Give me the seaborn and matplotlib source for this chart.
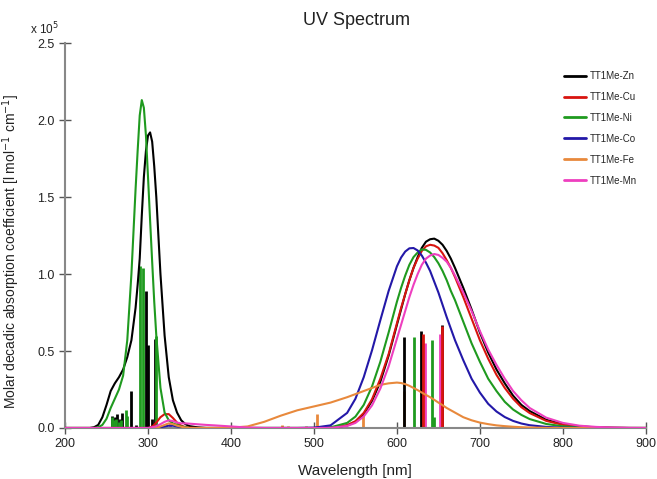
import numpy as np
import pandas as pd
import matplotlib
matplotlib.use("Agg")
import matplotlib.pyplot as plt
import seaborn as sns

# wavelength grid (nm) shared by all spectra
wavelength = [200, 230, 235, 240, 245, 250, 255, 260, 265, 270, 275, 280, 285, 287.5,
              290, 292.5, 295, 297.5, 300, 302.5, 305, 307.5, 310, 315, 320, 325, 330,
              335, 340, 345, 350, 360, 370, 380, 400, 420, 440, 460, 480,
              500, 520, 540, 550, 560, 570, 580, 590, 600, 605, 610, 615, 620, 625,
              630, 635, 640, 645, 650, 655, 660, 665, 670, 680, 690, 700, 710, 720,
              730, 740, 750, 760, 780, 800, 820, 840, 860, 880, 900]

# molar absorption (x 1e5)
eps_zn = [0, 0, 0.005, 0.02, 0.07, 0.15, 0.24, 0.29, 0.33, 0.38, 0.46, 0.57, 0.78, 0.93,
          1.1, 1.38, 1.63, 1.8, 1.9, 1.92, 1.86, 1.7, 1.5, 1.0, 0.6, 0.33, 0.18,
          0.1, 0.05, 0.025, 0.012, 0.004, 0, 0, 0, 0, 0, 0, 0,
          0, 0.002, 0.016, 0.041, 0.09, 0.177, 0.3, 0.47, 0.67, 0.77, 0.87, 0.96, 1.04, 1.11,
          1.17, 1.21, 1.226, 1.23, 1.216, 1.19, 1.15, 1.1, 1.04, 0.91, 0.77, 0.62, 0.49, 0.38,
          0.29, 0.21, 0.15, 0.11, 0.053, 0.024, 0.011, 0.004, 0.0015, 0, 0]
eps_cu = [0, 0, 0, 0, 0, 0, 0, 0, 0, 0, 0, 0, 0, 0,
          0, 0, 0, 0, 0, 0.003, 0.01, 0.02, 0.035, 0.07, 0.09, 0.09, 0.065,
          0.035, 0.015, 0.006, 0.002, 0, 0, 0, 0, 0, 0, 0, 0,
          0, 0.002, 0.018, 0.044, 0.098, 0.187, 0.32, 0.48, 0.68, 0.78, 0.87, 0.96, 1.04, 1.1,
          1.15, 1.18, 1.19, 1.185, 1.17, 1.135, 1.09, 1.04, 0.98, 0.85, 0.71, 0.57, 0.45, 0.345,
          0.26, 0.19, 0.135, 0.097, 0.046, 0.021, 0.009, 0.003, 0.001, 0, 0]
eps_ni = [0, 0, 0, 0.005, 0.02, 0.06, 0.13, 0.19, 0.25, 0.34, 0.57, 1.0, 1.55, 1.8,
          2.03, 2.13, 2.08, 1.9, 1.63, 1.35, 1.08, 0.82, 0.6, 0.26, 0.1, 0.05, 0.03,
          0.02, 0.01, 0.005, 0, 0, 0, 0, 0, 0, 0, 0, 0,
          0, 0.004, 0.033, 0.074, 0.15, 0.27, 0.43, 0.62, 0.82, 0.91, 0.99, 1.06, 1.11, 1.14,
          1.16, 1.157, 1.14, 1.11, 1.07, 1.02, 0.96, 0.89, 0.83, 0.69, 0.55, 0.43, 0.32, 0.24,
          0.17, 0.12, 0.085, 0.058, 0.026, 0.011, 0.004, 0.001, 0, 0, 0]
eps_co = [0, 0, 0, 0, 0, 0, 0, 0, 0, 0, 0, 0, 0, 0,
          0, 0, 0, 0, 0, 0, 0, 0, 0, 0.005, 0.01, 0.015, 0.015,
          0.01, 0.005, 0, 0, 0, 0, 0, 0, 0, 0, 0, 0,
          0.002, 0.017, 0.098, 0.19, 0.33, 0.505, 0.7, 0.89, 1.05, 1.107, 1.146, 1.167, 1.169, 1.153,
          1.12, 1.074, 1.02, 0.95, 0.88, 0.8, 0.72, 0.645, 0.57, 0.44, 0.32, 0.23, 0.157, 0.107,
          0.071, 0.046, 0.029, 0.018, 0.007, 0.002, 0.001, 0, 0, 0, 0]
eps_fe = [0, 0, 0, 0, 0, 0, 0, 0, 0, 0, 0, 0, 0, 0,
          0, 0, 0, 0, 0, 0, 0, 0, 0, 0.01, 0.02, 0.03, 0.025,
          0.015, 0.008, 0.003, 0, 0, 0, 0, 0.002, 0.01, 0.04, 0.08, 0.115,
          0.14, 0.165, 0.2, 0.22, 0.24, 0.26, 0.28, 0.29, 0.295, 0.292, 0.285, 0.274, 0.26, 0.246,
          0.23, 0.215, 0.2, 0.183, 0.165, 0.148, 0.13, 0.115, 0.1, 0.07, 0.05, 0.035, 0.025, 0.017,
          0.012, 0.008, 0.005, 0.003, 0.001, 0, 0, 0, 0, 0, 0]
eps_mn = [0, 0, 0, 0, 0, 0, 0, 0, 0, 0, 0, 0, 0, 0,
          0, 0, 0, 0, 0, 0.002, 0.005, 0.008, 0.012, 0.025, 0.04, 0.05, 0.045,
          0.035, 0.03, 0.03, 0.028, 0.024, 0.02, 0.017, 0.01, 0.003, 0, 0, 0,
          0, 0.001, 0.013, 0.033, 0.075, 0.147, 0.256, 0.4, 0.58, 0.67, 0.76, 0.85, 0.93, 1.0,
          1.06, 1.1, 1.12, 1.13, 1.124, 1.105, 1.08, 1.04, 0.99, 0.88, 0.76, 0.63, 0.51, 0.41,
          0.32, 0.24, 0.18, 0.13, 0.067, 0.033, 0.015, 0.007, 0.003, 0.001, 0]

# oscillator sticks (wavelength, height x 1e5)
stick_zn_wl = [256, 260, 263, 266, 269, 279, 285, 297.5, 300, 305, 308.5, 608, 629, 654]
stick_zn_h = [0.08, 0.07, 0.09, 0.06, 0.1, 0.24, 0.02, 0.89, 0.54, 0.06, 0.58, 0.59, 0.63, 0.67]
stick_cu_wl = [318, 631.5, 654]
stick_cu_h = [0.02, 0.61, 0.66]
stick_ni_wl = [257, 259, 262, 265, 268, 273, 275, 290.5, 293.5, 310, 621, 642, 645]
stick_ni_h = [0.07, 0.05, 0.06, 0.04, 0.05, 0.12, 0.08, 1.05, 1.04, 0.6, 0.59, 0.57, 0.07]
stick_fe_wl = [461, 469, 491, 504, 559, 609]
stick_fe_h = [0.02, 0.01, 0.015, 0.09, 0.095, 0.24]
stick_mn_wl = [326, 634, 652]
stick_mn_h = [0.03, 0.55, 0.61]

names = ["TT1Me-Zn", "TT1Me-Cu", "TT1Me-Ni", "TT1Me-Co", "TT1Me-Fe", "TT1Me-Mn"]
colors = ["#000000", "#d8140f", "#1f9a1f", "#2318a8", "#e8893c", "#ee3fbf"]

series = [eps_zn, eps_cu, eps_ni, eps_co, eps_fe, eps_mn]
for s in series:
    assert len(s) == len(wavelength)
df = pd.concat([pd.DataFrame({"wavelength": wavelength, "eps": s, "compound": n})
                for n, s in zip(names, series)], ignore_index=True)

sns.set_theme(style="ticks")
plt.rcParams["font.family"] = ["Liberation Sans", "DejaVu Sans"]

fig = plt.figure(figsize=(6.57, 4.79), dpi=100)
ax = fig.add_axes([0.099, 0.1065, 0.884, 0.8035])

# sticks first, curves on top
sticks = [(stick_fe_wl, stick_fe_h, colors[4]), (stick_zn_wl, stick_zn_h, colors[0]),
          (stick_ni_wl, stick_ni_h, colors[2]), (stick_mn_wl, stick_mn_h, colors[5]),
          (stick_cu_wl, stick_cu_h, colors[1])]
for wl, h, c in sticks:
    ax.vlines(wl, 0, h, colors=c, linewidth=2.0, zorder=2)

sns.lineplot(data=df, x="wavelength", y="eps", hue="compound", hue_order=names,
             palette=dict(zip(names, colors)), estimator=None, linewidth=1.5,
             ax=ax, zorder=3)

ax.set_xlim(200, 900)
ax.set_ylim(0, 2.5)
ax.set_xticks(np.arange(200, 901, 100))
ax.set_yticks(np.arange(0, 2.51, 0.5))
ax.set_yticklabels([f"{v:.1f}" for v in np.arange(0, 2.51, 0.5)])
ax.tick_params(direction="inout", length=8, width=1, color="#555555",
               labelsize=9, labelcolor="#222222")
for side in ["top", "right"]:
    ax.spines[side].set_visible(False)
for side in ["left", "bottom"]:
    ax.spines[side].set_color("#888888")
    ax.spines[side].set_linewidth(1.5)

ax.set_xlabel("Wavelength [nm]", fontsize=11, color="#222222", labelpad=10)
ax.set_ylabel("Molar decadic absorption coefficient [l mol$^{-1}$ cm$^{-1}$]",
              fontsize=10, color="#222222")
ax.yaxis.set_label_coords(-0.074, 0.46)
fig.text(0.543, 0.958, "UV Spectrum", ha="center", va="center", fontsize=13, color="#222222")
fig.text(0.046, 0.94, "x 10$^{5}$", ha="left", va="center", fontsize=8.5, color="#222222")

leg = ax.legend(loc="upper right", bbox_to_anchor=(1.0, 0.95), frameon=False,
                fontsize=7, handlelength=2.3, handletextpad=0.4, labelspacing=1.12)
for line in leg.get_lines():
    line.set_linewidth(2.0)

fig.savefig("out.png", dpi=100)
